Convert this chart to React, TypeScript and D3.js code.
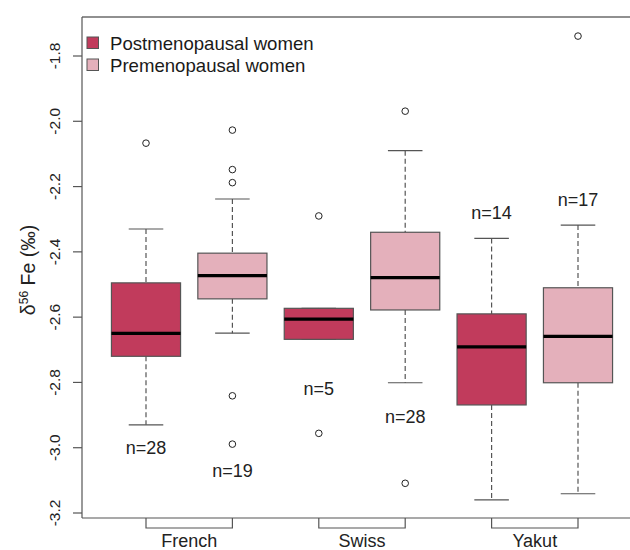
import React from "react";
import * as d3 from "d3";

const groups = ["French", "Swiss", "Yakut"];
const seriesNames = ["Postmenopausal women", "Premenopausal women"];
const seriesColors = ["#C13B5C", "#E4B0BB"];
const yTicks = [-1.8, -2.0, -2.2, -2.4, -2.6, -2.8, -3.0, -3.2];

// [lowerWhisker, Q1, median, Q3, upperWhisker]
const frenchPost = [-2.93, -2.72, -2.65, -2.495, -2.33];
const frenchPre = [-2.649, -2.544, -2.473, -2.404, -2.238];
const swissPost = [-2.668, -2.668, -2.606, -2.573, -2.573];
const swissPre = [-2.801, -2.578, -2.479, -2.34, -2.09];
const yakutPost = [-3.16, -2.869, -2.691, -2.59, -2.359];
const yakutPre = [-3.141, -2.801, -2.659, -2.51, -2.318];

const frenchPostOut = [-2.067];
const frenchPreOut = [-2.027, -2.148, -2.188, -2.841, -2.989];
const swissPostOut = [-2.29, -2.956];
const swissPreOut = [-1.969, -3.109];
const yakutPostOut: number[] = [];
const yakutPreOut = [-1.739];

const nLabels = ["n=28", "n=19", "n=5", "n=28", "n=14", "n=17"];
const nLabelValues = [-3.0, -3.07, -2.82, -2.905, -2.28, -2.24];

const boxes = [
  { group: 0, series: 0, stats: frenchPost, out: frenchPostOut },
  { group: 0, series: 1, stats: frenchPre, out: frenchPreOut },
  { group: 1, series: 0, stats: swissPost, out: swissPostOut },
  { group: 1, series: 1, stats: swissPre, out: swissPreOut },
  { group: 2, series: 0, stats: yakutPost, out: yakutPostOut },
  { group: 2, series: 1, stats: yakutPre, out: yakutPreOut },
];

const FONT = "'Liberation Sans', Arial, Helvetica, sans-serif";

export default function App() {
  const W = 630, H = 550;
  const left = 82, top = 17, bottom = 518, right = 640;
  const y = d3.scaleLinear().domain([-1.8, -3.2]).range([56, 513]);
  const x = d3
    .scalePoint<number>()
    .domain(d3.range(6))
    .range([102.8, 621.2])
    .padding(0.5);
  const step = x.step();
  const bw = step * 0.8;
  const capW = bw * 0.5;

  return (
    <svg width={W} height={H} style={{ position: "absolute", left: 0, top: 0 }} fontFamily={FONT}>
      <rect width={W} height={H} fill="#fff" />
      {/* frame */}
      <line x1={left} x2={right} y1={top} y2={top} stroke="#222" strokeWidth={1.2} />
      <line x1={left} x2={right} y1={bottom} y2={bottom} stroke="#555" strokeWidth={1.2} />
      <line x1={left} x2={left} y1={top} y2={bottom} stroke="#555" strokeWidth={1.2} />
      {/* y ticks */}
      {yTicks.map((t) => (
        <g key={t}>
          <line x1={left - 9} x2={left} y1={y(t)} y2={y(t)} stroke="#555" strokeWidth={1.2} />
          <text
            transform={`translate(${60},${y(t)}) rotate(-90)`}
            textAnchor="middle"
            fontSize={15.5}
            fill="#222"
          >
            {d3.format(".1f")(t).replace("−", "-")}
          </text>
        </g>
      ))}
      {/* y title */}
      <text transform={`translate(${35},${270}) rotate(-90)`} textAnchor="middle" fontSize={19.5} fill="#222">
        <tspan>δ</tspan>
        <tspan fontSize={12} dy={-7}>56</tspan>
        <tspan dy={7}> Fe (‰)</tspan>
      </text>
      {/* group brackets */}
      {groups.map((g, i) => {
        const x1 = x(i * 2)!, x2 = x(i * 2 + 1)!;
        return (
          <g key={g}>
            <path d={`M${x1},${bottom}V${bottom + 10}H${x2}V${bottom}`} fill="none" stroke="#555" strokeWidth={1.2} />
            <text x={(x1 + x2) / 2} y={547} textAnchor="middle" fontSize={18} fill="#222">
              {g}
            </text>
          </g>
        );
      })}
      {/* boxes */}
      {boxes.map((b, i) => {
        const cx = x(i)!;
        const [lo, q1, med, q3, hi] = b.stats;
        return (
          <g key={i}>
            <line x1={cx} x2={cx} y1={y(hi)} y2={y(q3)} stroke="#555" strokeWidth={1.2} strokeDasharray="5,3" />
            <line x1={cx} x2={cx} y1={y(q1)} y2={y(lo)} stroke="#555" strokeWidth={1.2} strokeDasharray="5,3" />
            <line x1={cx - capW / 2} x2={cx + capW / 2} y1={y(hi)} y2={y(hi)} stroke="#555" strokeWidth={1.2} />
            <line x1={cx - capW / 2} x2={cx + capW / 2} y1={y(lo)} y2={y(lo)} stroke="#555" strokeWidth={1.2} />
            <rect
              x={cx - bw / 2}
              y={y(q3)}
              width={bw}
              height={y(q1) - y(q3)}
              fill={seriesColors[b.series]}
              stroke="#555"
              strokeWidth={1.2}
            />
            <line x1={cx - bw / 2} x2={cx + bw / 2} y1={y(med)} y2={y(med)} stroke="#000" strokeWidth={3.2} />
            {b.out.map((o, j) => (
              <circle key={j} cx={cx} cy={y(o)} r={3.3} fill="none" stroke="#222" strokeWidth={1} />
            ))}
            <text x={cx} y={y(nLabelValues[i]) + 6} textAnchor="middle" fontSize={18} fill="#222">
              {nLabels[i]}
            </text>
          </g>
        );
      })}
      {/* legend */}
      {seriesNames.map((s, i) => (
        <g key={s}>
          <rect x={87} y={37 + i * 22} width={11.5} height={11.5} fill={seriesColors[i]} stroke="#555" strokeWidth={1} />
          <text x={110} y={49.5 + i * 22} fontSize={18.6} fill="#1a1a1a">
            {s}
          </text>
        </g>
      ))}
    </svg>
  );
}
